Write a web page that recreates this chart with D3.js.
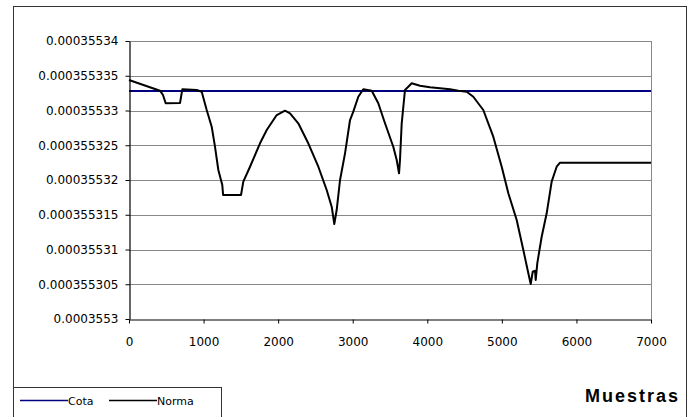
<!DOCTYPE html>
<html>
<head>
<meta charset="utf-8">
<script src="https://cdn.jsdelivr.net/npm/d3@7"></script>
<style>
  body { margin: 0; background: #fff; }
  svg { display: block; }
</style>
</head>
<body>
<script>
// muestras (x) and norma values (y)
var muestras = [0, 416, 456, 492, 684, 715, 908, 975, 1042, 1109, 1153, 1198, 1251, 1262,
  1502, 1533, 1623, 1757, 1847, 1981, 2092, 2159, 2270, 2404, 2539, 2651, 2718, 2753,
  2785, 2830, 2897, 2964, 3008, 3075, 3142, 3255, 3343, 3433, 3544, 3590, 3621, 3634,
  3657, 3701, 3745, 3791, 3902, 4036, 4305, 4416, 4529, 4617, 4751, 4885, 4998, 5087,
  5199, 5288, 5355, 5387, 5414, 5445, 5454, 5475, 5534, 5601, 5668, 5735, 5780, 7000];
var norma = [0.00035533439, 0.00035533285, 0.00035533223, 0.00035533104, 0.00035533108,
  0.00035533305, 0.00035533295, 0.0003553327, 0.00035533007, 0.00035532767, 0.00035532479,
  0.00035532144, 0.00035531928, 0.00035531784, 0.00035531784, 0.00035531976, 0.00035532191,
  0.00035532528, 0.00035532719, 0.00035532935, 0.00035532997, 0.0003553296, 0.00035532816,
  0.00035532528, 0.00035532191, 0.00035531856, 0.00035531616, 0.00035531367, 0.00035531568,
  0.0003553200, 0.00035532384, 0.00035532863, 0.00035532983, 0.00035533198, 0.00035533305,
  0.00035533285, 0.00035533104, 0.00035532816, 0.00035532479, 0.00035532288, 0.00035532096,
  0.00035532288, 0.00035532816, 0.00035533295, 0.00035533342, 0.00035533391, 0.00035533357,
  0.00035533334, 0.00035533305, 0.00035533285, 0.0003553327, 0.00035533198, 0.00035533007,
  0.00035532623, 0.00035532191, 0.00035531809, 0.00035531424, 0.00035530993, 0.00035530658,
  0.00035530504, 0.00035530681, 0.00035530695, 0.00035530561, 0.00035530801, 0.00035531184,
  0.00035531521, 0.00035531976, 0.00035532191, 0.00035532249, 0.00035532249];
var cota = 0.0003553328;

var xTicks = [0, 1000, 2000, 3000, 4000, 5000, 6000, 7000];
var yTicks = [0.0003553, 0.000355305, 0.00035531, 0.000355315, 0.00035532,
  0.000355325, 0.00035533, 0.000355335, 0.00035534];
var yTickLabels = ['0.0003553', '0.000355305', '0.00035531', '0.000355315', '0.00035532',
  '0.000355325', '0.00035533', '0.000355335', '0.00035534'];
var series = ['Cota', 'Norma'];

var w = 694;
var h = 417;
var plotL = 129, plotR = 651, plotT = 41, plotB = 319;

var svg = d3.select('body')
            .append('svg')
            .attr('width', w)
            .attr('height', h)
            .style('font-family', 'DejaVu Sans, sans-serif');

// outer frame
svg.append('rect')
   .attr('x', 13.5).attr('y', 6.5)
   .attr('width', 673).attr('height', 416)
   .attr('fill', 'none')
   .attr('stroke', '#333');

var xScale = d3.scaleLinear()
               .domain([0, 7000])
               .range([plotL, plotR]);
var yScale = d3.scaleLinear()
               .domain([0.0003553, 0.00035534])
               .range([plotB, plotT]);

// gridlines
svg.append('g')
   .selectAll('line')
   .data(yTicks.slice(1))
   .enter()
   .append('line')
   .attr('x1', plotL).attr('x2', plotR)
   .attr('y1', function(d) { return Math.round(yScale(d)) + 0.5; })
   .attr('y2', function(d) { return Math.round(yScale(d)) + 0.5; })
   .attr('stroke', '#888');
svg.append('line')
   .attr('x1', plotR + 0.5).attr('x2', plotR + 0.5)
   .attr('y1', plotT).attr('y2', plotB)
   .attr('stroke', '#888');

// cota
svg.append('line')
   .attr('x1', xScale(0)).attr('x2', xScale(7000))
   .attr('y1', yScale(cota)).attr('y2', yScale(cota))
   .attr('stroke', '#000080')
   .attr('stroke-width', 2);

// norma
var pts = muestras.map(function(m, i) { return [m, norma[i]]; });
var line = d3.line()
             .x(function(d) { return xScale(d[0]); })
             .y(function(d) { return yScale(d[1]); });
svg.append('path')
   .datum(pts)
   .attr('d', line)
   .attr('fill', 'none')
   .attr('stroke', '#000')
   .attr('stroke-width', 2)
   .attr('stroke-linejoin', 'round');

// axes
var xAxis = svg.append('g')
   .attr('transform', 'translate(0,' + (plotB + 0.5) + ')')
   .call(d3.axisBottom(xScale).tickValues(xTicks).tickFormat(d3.format('d'))
           .tickSize(4).tickSizeOuter(0).tickPadding(14));
var yAxis = svg.append('g')
   .attr('transform', 'translate(' + (plotL + 0.5) + ',0)')
   .call(d3.axisLeft(yScale).tickValues(yTicks)
           .tickFormat(function(d, i) { return yTickLabels[i]; })
           .tickSize(4).tickSizeOuter(0).tickPadding(7));
[xAxis, yAxis].forEach(function(a) {
    a.select('.domain').attr('stroke', '#000').attr('stroke-width', 1.2);
    a.selectAll('.tick line').attr('stroke', '#000');
    a.selectAll('text').attr('font-size', 12).attr('font-family', 'DejaVu Sans, sans-serif').attr('fill', '#000');
});

// title
svg.append('text')
   .attr('x', 680).attr('y', 402)
   .attr('text-anchor', 'end')
   .attr('font-family', 'Liberation Sans, Arial, sans-serif')
   .attr('font-weight', 'bold')
   .attr('font-size', 18)
   .attr('letter-spacing', 2)
   .text('Muestras');

// legend
var lg = svg.append('g');
lg.append('rect')
  .attr('x', 13.5).attr('y', 387.5)
  .attr('width', 208).attr('height', 40)
  .attr('fill', '#fff')
  .attr('stroke', '#333');
var legX = [20, 109];
var legCol = ['#000080', '#000'];
series.forEach(function(s, i) {
    lg.append('line')
      .attr('x1', legX[i]).attr('x2', legX[i] + 48)
      .attr('y1', 400.5).attr('y2', 400.5)
      .attr('stroke', legCol[i])
      .attr('stroke-width', 1.5);
    lg.append('text')
      .attr('x', legX[i] + 48).attr('y', 404.5)
      .attr('font-size', 11)
      .text(s);
});
</script>
</body>
</html>
